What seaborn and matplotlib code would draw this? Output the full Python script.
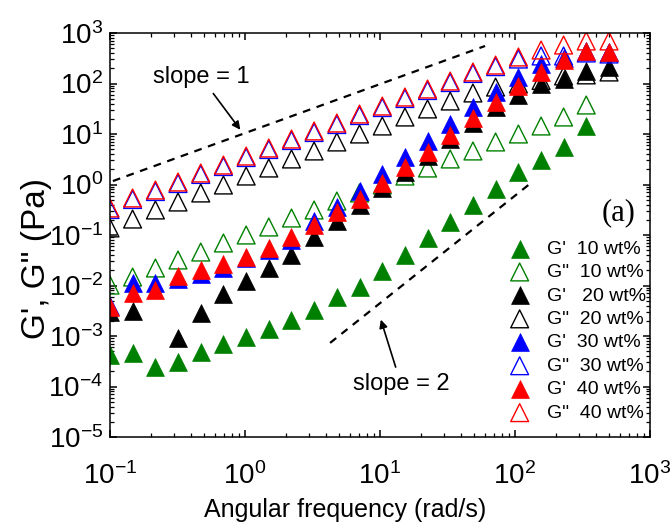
import numpy as np
import matplotlib
matplotlib.use("Agg")
import matplotlib.pyplot as plt
import seaborn as sns

sns.set_style("ticks")
plt.rcParams.update({
    'font.family': ['Liberation Sans', 'DejaVu Sans'],
    'mathtext.fontset': 'custom',
    'mathtext.rm': 'Liberation Sans',
    'mathtext.it': 'Liberation Sans:italic',
    'mathtext.default': 'regular',
    'axes.linewidth': 1.1,
    'axes.edgecolor': 'black',
    'text.color': 'black',
    'axes.labelcolor': 'black',
    'xtick.color': 'black',
    'ytick.color': 'black',
})

# angular frequency (rad/s)
freq = [0.1, 0.147, 0.217, 0.319, 0.47, 0.692, 1.02, 1.5, 2.21, 3.25, 4.79, 7.05,
        10.4, 15.3, 22.5, 33.1, 48.8, 71.8, 106, 156, 229, 337, 497]
nan = np.nan

g1_10 = [4.2e-4, 4.6e-4, 2.43e-4, 3.05e-4, 4.82e-4, 6.95e-4, 9.55e-4, 1.38e-3, 2.07e-3, 3.27e-3,
         5.92e-3, 9.3e-3, 0.0194, 0.0411, 0.0853, 0.181, 0.393, 0.814, 1.73, 2.99, 5.41, 14.4, nan]
g2_10 = [0.0102, 0.0147, 0.0222, 0.032, 0.046, 0.0695, 0.1, 0.144, 0.217, 0.313, 0.471, 0.68,
         0.977, 1.47, 2.12, 3.20, 4.61, 6.95, 10.0, 14.4, 21.7, 37.5, nan]
g1_20 = [2.99e-3, 3.13e-3, nan, 9.1e-4, 2.85e-3, 6.8e-3, 0.0123, 0.0222, 0.0402, 0.0933, 0.189,
         0.393, 0.853, 1.77, 3.66, 7.96, 16.5, 34.3, 59.2, 97.8, 123, 177, 212]
g2_20 = [0.138, 0.207, 0.313, 0.45, 0.679, 0.977, 1.47, 2.12, 3.20, 4.61, 6.95, 10.0, 14.4, 21.7,
         31.3, 45.0, 64.9, 85.0, 98, 115, 141, 148, 169]
g1_30 = [3.9e-3, 0.0112, 0.0112, 0.0135, 0.0169, 0.0222, 0.0351, 0.0505, 0.0796, 0.189, 0.366,
         0.760, 1.61, 3.51, 7.26, 15.8, 34.3, 67.9, 135, 243, 320, 440, 430]
g2_30 = [0.32, 0.505, 0.726, 1.045, 1.58, 2.27, 3.42, 4.93, 7.43, 10.7, 15.4, 23.2, 33.4, 50.4,
         72.6, 104.5, 158, 216, 305, 351, 351, 402, 384]
g1_40 = [3.75e-3, 7.1e-3, 8.15e-3, 0.0154, 0.0203, 0.0267, 0.0375, 0.0565, 0.0912, 0.158, 0.285,
         0.528, 1.07, 2.22, 4.40, 9.55, 20.7, 43.0, 89.1, 169, 292, 441, 430]
g2_40 = [0.343, 0.541, 0.778, 1.12, 1.69, 2.43, 3.66, 5.28, 7.96, 11.5, 16.5, 24.9, 35.8, 54.0,
         77.8, 112, 169, 232, 335, 460, 578, 695, 695]

series = [
    ("G'  10 wt%", g1_10, '#008000', True),
    ('G"  10 wt%', g2_10, '#008000', False),
    ("G'   20 wt%", g1_20, 'black', True),
    ('G"  20 wt%', g2_20, 'black', False),
    ("G'  30 wt%", g1_30, '#0000ff', True),
    ('G"  30 wt%', g2_30, '#0000ff', False),
    ("G'  40 wt%", g1_40, '#ff0000', True),
    ('G"  40 wt%', g2_40, '#ff0000', False),
]

# guide lines
slope1_x = [0.105, 60]
slope1_y = [1.17, 553]
slope2_x = [4.27, 134]
slope2_y = [7.3e-4, 1.12]

fig = plt.figure(figsize=(6.72, 5.25), dpi=100)
ax = fig.add_axes([110 / 672, 1 - 437 / 525, 540 / 672, 404 / 525])

for label, vals, col, filled in series:
    if filled:
        sns.scatterplot(x=freq, y=vals, marker='^', s=165, color=col, edgecolor=col,
                        linewidth=0.5, label=label, ax=ax)
    else:
        sns.scatterplot(x=freq, y=vals, marker='^', s=165, facecolor='none', edgecolor=col,
                        linewidth=1.0, label=label, ax=ax)

sns.lineplot(x=slope1_x, y=slope1_y, color='black', lw=1.6, dashes=False, ax=ax, legend=False)
sns.lineplot(x=slope2_x, y=slope2_y, color='black', lw=1.6, dashes=False, ax=ax, legend=False)
for ln in ax.lines:
    ln.set_dashes((3.5, 3))

ax.set_xscale('log')
ax.set_yscale('log')
ax.set_xlim(0.1, 1000)
ax.set_ylim(1e-5, 1e3)
ax.yaxis.set_major_locator(matplotlib.ticker.LogLocator(base=10, numticks=20))
ax.yaxis.set_minor_locator(matplotlib.ticker.LogLocator(base=10, subs=np.arange(2, 10), numticks=20))

ax.tick_params(which='both', direction='in', top=True, right=True, labelsize=20)
ax.tick_params(which='major', length=5, width=1.1, pad=5)
ax.tick_params(which='minor', length=3, width=0.9)
ax.tick_params(axis='x', which='major', pad=18)

ax.set_xlabel('Angular frequency (rad/s)', fontsize=18)
ax.set_ylabel('G\', G" (Pa)', fontsize=24)
ax.xaxis.set_label_coords((345 - 110) / 540, -0.151)
ax.yaxis.set_label_coords(-0.108, 0.443)

ax.annotate('slope = 1', xy=(0.95, 10.96), xytext=(0.472, 134.6), fontsize=17,
            ha='center', va='center',
            arrowprops=dict(arrowstyle='-|>', color='black', lw=1.2, mutation_scale=12))
ax.annotate('slope = 2', xy=(10, 2.38e-3), xytext=(14.3, 1.12e-4), fontsize=17,
            ha='center', va='center',
            arrowprops=dict(arrowstyle='-|>', color='black', lw=1.2, mutation_scale=12))

ax.text(0.941, 0.554, '(a)', transform=ax.transAxes, fontsize=22, ha='center', va='center',
        family=['Liberation Serif', 'DejaVu Serif'])

ax.legend(loc='upper left', bbox_to_anchor=(0.737, 0.4876), frameon=False, fontsize=14,
          handlelength=1.2, handletextpad=0.8, labelspacing=0.3, borderpad=0, borderaxespad=0)

fig.savefig('out.png', dpi=100)
